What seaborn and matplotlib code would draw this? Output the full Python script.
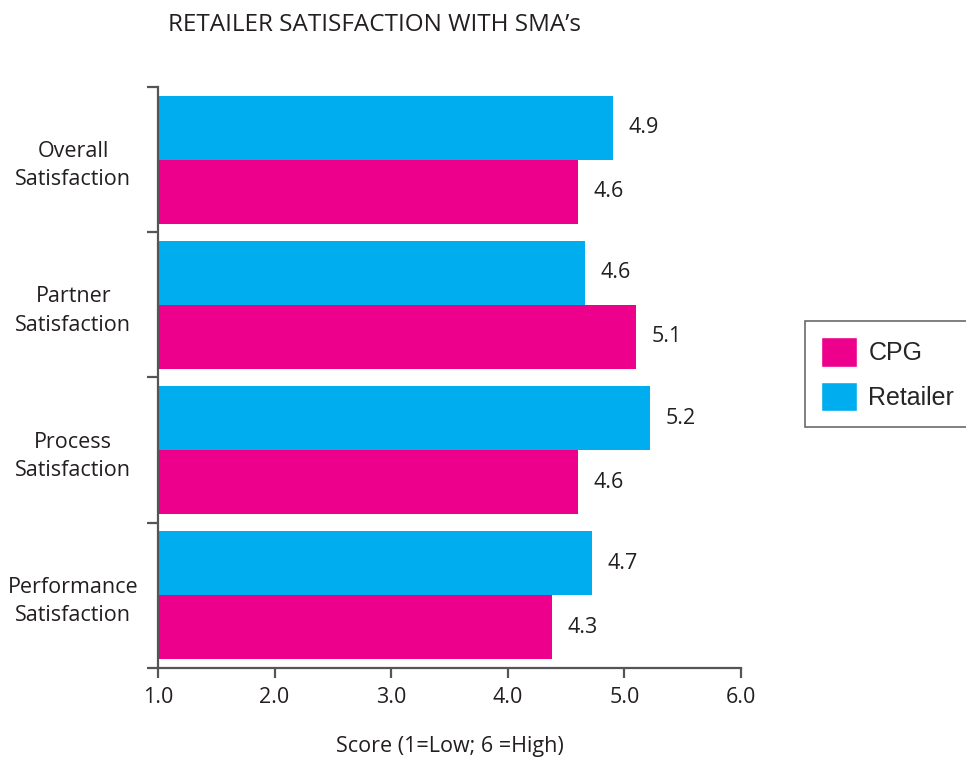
import seaborn as sns
import matplotlib.pyplot as plt
import pandas as pd
from matplotlib.patches import Patch

# --- data ---
categories = ["Overall\nSatisfaction", "Partner\nSatisfaction",
              "Process\nSatisfaction", "Performance\nSatisfaction"]
retailer = [4.9, 4.66, 5.22, 4.72]
cpg = [4.6, 5.1, 4.6, 4.38]
retailer_labels = ["4.9", "4.6", "5.2", "4.7"]
cpg_labels = ["4.6", "5.1", "4.6", "4.3"]

CYAN = "#00AEEF"
MAGENTA = "#EC008C"
AXIS = "#555555"
TEXT = "#231F20"
FS = 15.5

df = pd.DataFrame({
    "category": categories * 2,
    "group": ["Retailer"] * 4 + ["CPG"] * 4,
    "score": retailer + cpg,
})

sns.set_theme(style="white")
plt.rcParams["font.family"] = ["Open Sans", "DejaVu Sans"]

fig = plt.figure(figsize=(9.66, 7.62), dpi=100)
ax = fig.add_axes([158 / 966, 1 - 668 / 762, (741 - 158) / 966, (668 - 87) / 762])

sns.barplot(data=df, y="category", x="score", hue="group",
            hue_order=["Retailer", "CPG"], palette=[CYAN, MAGENTA],
            orient="h", width=0.88, saturation=1, linewidth=0,
            legend=False, ax=ax)

ax.set_xlim(1, 6)
ax.set_ylim(3.5, -0.5)

# value labels
for cont, labels in zip(ax.containers, [retailer_labels, cpg_labels]):
    ax.bar_label(cont, labels=labels, padding=11, fontsize=FS, color=TEXT)

# axes styling
for s in ["top", "right"]:
    ax.spines[s].set_visible(False)
for s in ["left", "bottom"]:
    ax.spines[s].set_color(AXIS)
    ax.spines[s].set_linewidth(1.6)

ax.set_xticks([1, 2, 3, 4, 5, 6])
ax.set_xticklabels(["1.0", "2.0", "3.0", "4.0", "5.0", "6.0"])
ax.tick_params(axis="x", bottom=True, direction="out", length=7, width=1.6,
               color=AXIS, labelsize=FS, labelcolor=TEXT, pad=7)

ax.set_yticks([-0.5, 0.5, 1.5, 2.5, 3.5], minor=True)
ax.tick_params(axis="y", which="minor", left=True, direction="out", length=8,
               width=1.6, color=AXIS)
ax.tick_params(axis="y", which="major", left=False, length=0, pad=61,
               labelsize=FS, labelcolor=TEXT)
for lab in ax.get_yticklabels():
    lab.set_ha("center")
    lab.set_multialignment("center")
    lab.set_linespacing(1.45)

ax.set_ylabel("")
ax.set_xlabel("Score (1=Low; 6 =High)", fontsize=FS, color=TEXT, labelpad=20)

fig.text(375 / 966, 1 - 25 / 762, "RETAILER SATISFACTION WITH SMA\u2019s",
         ha="center", va="center", fontsize=17.5, color=TEXT)

handles = [Patch(facecolor=MAGENTA, label="CPG"),
           Patch(facecolor=CYAN, label="Retailer")]
leg = fig.legend(handles=handles, loc="center left",
                 bbox_to_anchor=(805 / 966, 1 - 374 / 762),
                 prop={"family": "Liberation Sans", "size": 18},
                 frameon=True, fancybox=False, edgecolor="#444444",
                 handlelength=1.44, handleheight=1.44, labelspacing=0.6,
                 handletextpad=0.45, borderpad=0.65, borderaxespad=0)
leg.get_frame().set_linewidth(1.2)

fig.savefig("out.png", dpi=100)
